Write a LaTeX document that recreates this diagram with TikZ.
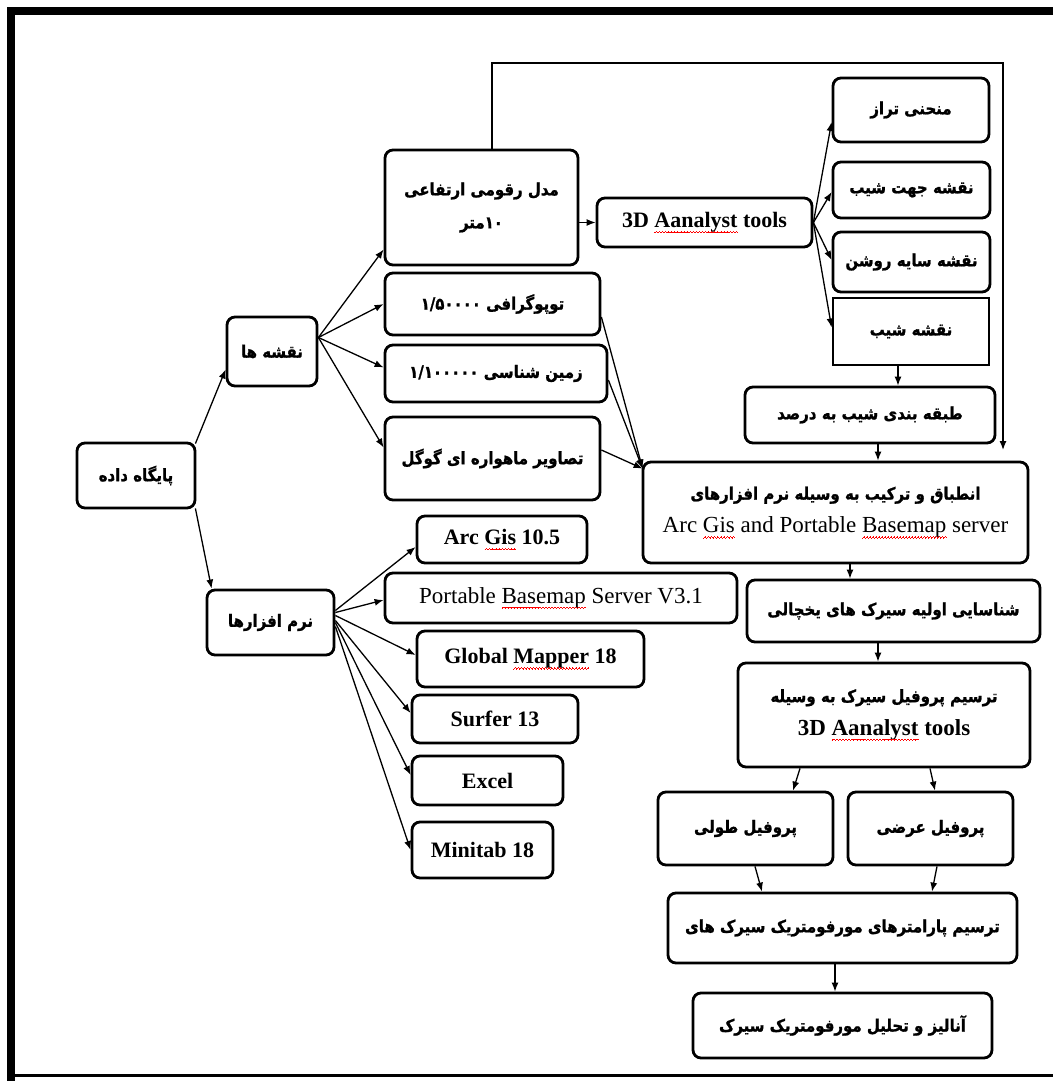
\documentclass[tikz,border=0pt]{standalone}
\usepackage{fontspec}
\usetikzlibrary{arrows.meta,calc}
\TeXXeTstate=1
\newfontfamily\fa[Script=Arabic,FakeStretch=0.88,BoldFeatures={FakeBold=1.2}]{DejaVu Sans}
\newfontfamily\en{Liberation Serif}
\newdimen\wvw
\newcommand\wvunit{\hbox{\rule[-5.6pt]{0.75pt}{0.6pt}\rule[-4.9pt]{0.75pt}{0.6pt}\rule[-4.2pt]{0.75pt}{0.6pt}\rule[-4.9pt]{0.75pt}{0.6pt}}}
\newcommand\wv[1]{\setbox0=\hbox{#1}\wvw=\wd0\rlap{\copy0}\rlap{\hbox to\wvw{\color{red}\xleaders\wvunit\hfill}}\kern\wvw}
\newcommand\rtl[1]{\beginR #1\endR}
\tikzset{
 bx/.style={draw, line width=2.8pt, rounded corners=8pt, fill=white, inner sep=0pt, align=center},
 sqbx/.style={draw, line width=2.8pt, fill=white, inner sep=0pt, align=center},
 ar/.style={line width=1.3pt, -{Latex[length=9pt,width=7pt]}},
 fatext/.style={font=\fa\bfseries\fontsize{17}{33}\selectfont},
 entext/.style={font=\en\fontsize{23}{33}\selectfont},
 enbtext/.style={font=\en\bfseries\fontsize{22}{33}\selectfont},
}
\begin{document}
\begin{tikzpicture}[x=1pt,y=-1pt]
\useasboundingbox (0,0) rectangle (1053,1081);
% frame
\fill (7,7) rectangle (1053,15);
\fill (7,7) rectangle (15,1081);
\draw[line width=3pt] (7,1075) -- (1053,1075);

% left column
\node[bx,fatext,minimum width=118pt,minimum height=65pt] (db) at (136,475.5) {\rtl{پایگاه داده}};
\node[bx,fatext,minimum width=90pt,minimum height=69pt] (maps) at (272,351.5) {\rtl{نقشه ها}};
\node[bx,fatext,minimum width=127pt,minimum height=65pt] (soft) at (270.5,622.5) {\rtl{نرم افزارها}};

% maps branch
\node[bx,fatext,minimum width=193pt,minimum height=115pt] (dem) at (481.5,207.5) {\rtl{مدل رقومی ارتفاعی}\\\rtl{متر}\beginL۱۰\endL};
\node[bx,fatext,minimum width=215pt,minimum height=62pt] (topo) at (492.5,304) {\rtl{توپوگرافی \beginL۱/۵۰۰۰۰\endL}};
\node[bx,fatext,minimum width=222pt,minimum height=57pt] (geo) at (496,373.5) {\rtl{زمین شناسی \beginL۱/۱۰۰۰۰۰\endL}};
\node[bx,fatext,minimum width=215pt,minimum height=83pt] (sat) at (492.5,458.5) {\rtl{تصاویر ماهواره ای گوگل}};

\node[bx,enbtext,minimum width=215pt,minimum height=49pt] (tools) at (704.5,222.5) {3D \wv{Aanalyst} tools};

\node[bx,fatext,minimum width=156pt,minimum height=64pt] (contour) at (911,110) {\rtl{منحنی تراز}};
\node[bx,fatext,minimum width=157pt,minimum height=56pt] (aspect) at (911.5,190) {\rtl{نقشه جهت شیب}};
\node[bx,fatext,minimum width=157pt,minimum height=60pt] (hill) at (911.5,262) {\rtl{نقشه سایه روشن}};
\node[sqbx,fatext,minimum width=156pt,minimum height=67pt] (slope) at (911,331.5) {\rtl{نقشه شیب}};
\node[bx,fatext,minimum width=250pt,minimum height=56pt] (slopecls) at (870,415) {\rtl{طبقه بندی شیب به درصد}};

% main flow
\node[bx,fatext,minimum width=385pt,minimum height=101pt] (overlay) at (835.5,512.5) {\rtl{انطباق و ترکیب به وسیله نرم افزارهای}\\{\en\mdseries\fontsize{23}{33}\selectfont Arc \wv{Gis} and Portable \wv{Basemap} server}};
\node[bx,fatext,minimum width=293pt,minimum height=62pt] (ident) at (893.5,611) {\rtl{شناسایی اولیه سیرک های یخچالی}};
\node[bx,fatext,minimum width=292pt,minimum height=104pt] (profile) at (884,715) {\rtl{ترسیم پروفیل سیرک به وسیله}\\{\en\fontsize{23}{33}\selectfont 3D \wv{Aanalyst} tools}};
\node[bx,fatext,minimum width=175pt,minimum height=73pt] (longp) at (745.5,828.5) {\rtl{پروفیل طولی}};
\node[bx,fatext,minimum width=165pt,minimum height=73pt] (crossp) at (930.5,828.5) {\rtl{پروفیل عرضی}};
\node[bx,fatext,minimum width=349pt,minimum height=70pt] (params) at (842.5,928) {\rtl{ترسیم پارامترهای مورفومتریک سیرک های}};
\node[bx,fatext,minimum width=299pt,minimum height=65pt] (analysis) at (842.5,1025.5) {\rtl{آنالیز و تحلیل مورفومتریک سیرک}};

% software
\node[bx,enbtext,minimum width=170pt,minimum height=47pt] (arcgis) at (502,539.5) {Arc \wv{Gis} 10.5};
\node[bx,entext,minimum width=352pt,minimum height=50pt] (pbs) at (561,598) {Portable \wv{Basemap} Server V3.1};
\node[bx,enbtext,minimum width=227pt,minimum height=56pt] (gm) at (530.5,659) {Global \wv{Mapper} 18};
\node[bx,enbtext,minimum width=166pt,minimum height=48pt] (surfer) at (495,719) {Surfer 13};
\node[bx,enbtext,minimum width=151pt,minimum height=49pt] (excel) at (487.5,780.5) {Excel};
\node[bx,enbtext,minimum width=141pt,minimum height=56pt] (minitab) at (482.5,850) {Minitab 18};

% connectors
\draw[ar] ($(db.north east)+(-1,2)$) -- ($(maps.west)+(0,18)$);
\draw[ar] ($(db.south east)+(-1,-1)$) -- ($(soft.north west)+(6,0)$);

\draw[ar] ($(maps.east)+(0,-14)$) -- ($(dem.west)+(0,42)$);
\draw[ar] ($(maps.east)+(0,-14)$) -- (topo.west);
\draw[ar] ($(maps.east)+(0,-14)$) -- ($(geo.west)+(0,-6)$);
\draw[ar] ($(maps.east)+(0,-14)$) -- ($(sat.west)+(0,-11)$);

\draw[ar] ($(dem.east)+(0,15)$) -- (tools.west);
\draw[ar] (tools.east) -- ($(contour.west)+(0,12)$);
\draw[ar] (tools.east) -- ($(aspect.west)+(0,2)$);
\draw[ar] (tools.east) -- ($(hill.west)+(0,-2)$);
\draw[ar] (tools.east) -- ($(slope.west)+(0,-4)$);
\draw[ar] ($(slope.south)+(-13,0)$) -- ($(slopecls.north)+(28,0)$);
\draw[ar] ($(slopecls.south)+(8,0)$) -- ($(overlay.north)+(42.5,0)$);

\coordinate (looptop) at (1003,63);
\coordinate (loopend) at (1003,450);
\draw[ar] ($(dem.north)+(10.5,0)$) |- (looptop) -- (loopend);

\draw[ar] ($(topo.east)+(0,13)$) -- ($(overlay.north west)+(1,8)$);
\draw[ar] ($(geo.east)+(0,6.5)$) -- ($(overlay.north west)+(1,8)$);
\draw[ar] ($(sat.east)+(0,-8.5)$) -- ($(overlay.north west)+(1,8)$);

\draw[ar] ($(overlay.south)+(14.5,0)$) -- ($(ident.north)+(-43.5,0)$);
\draw[ar] ($(ident.south)+(-15.5,0)$) -- ($(profile.north)+(-6,0)$);
\draw[ar] ($(profile.south)+(-84,0)$) -- ($(longp.north)+(47.5,0)$);
\draw[ar] ($(profile.south)+(46,0)$) -- ($(crossp.north)+(4.5,0)$);
\draw[ar] ($(longp.south)+(9.5,0)$) -- ($(params.north)+(-80.5,0)$);
\draw[ar] ($(crossp.south)+(6.5,0)$) -- ($(params.north)+(89.5,0)$);
\draw[ar] ($(params.south)+(-7.5,0)$) -- ($(analysis.north)+(-7.5,0)$);

\draw[ar] ($(soft.east)+(0,-12)$) -- ($(arcgis.west)+(0,7.5)$);
\draw[ar] ($(soft.east)+(0,-10)$) -- ($(pbs.west)+(0,2)$);
\draw[ar] ($(soft.east)+(0,-7)$) -- ($(gm.west)+(0,-4)$);
\draw[ar] ($(soft.east)+(0,-2)$) -- ($(surfer.west)+(0,-6)$);
\draw[ar] ($(soft.east)+(0,0)$) -- ($(excel.west)+(0,-5.5)$);
\draw[ar] ($(soft.east)+(0,4)$) -- (minitab.west);
\end{tikzpicture}
\end{document}
